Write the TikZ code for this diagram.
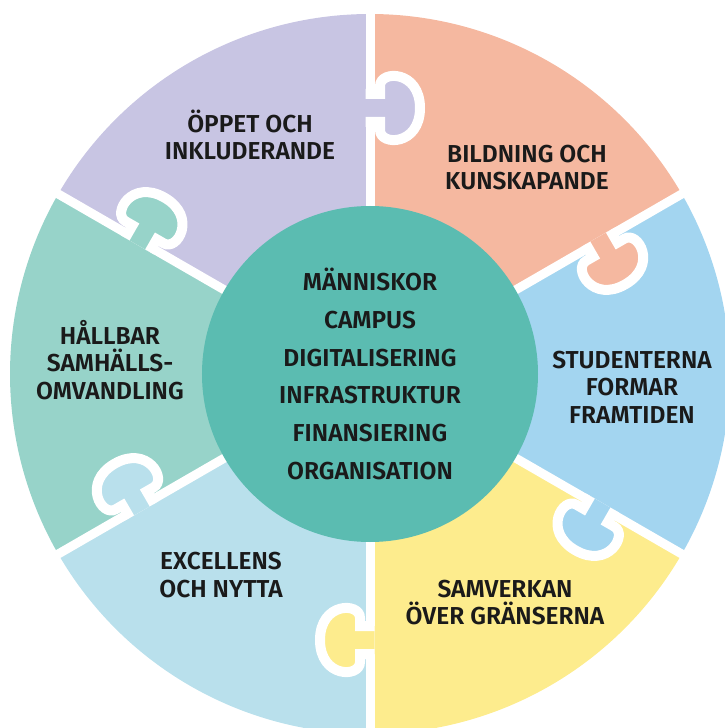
\documentclass[tikz,border=0pt]{standalone}
\usepackage{fontspec}
\setmainfont{Fira Sans SemiBold}
\usepackage{xcolor}
\definecolor{oppen}{RGB}{200,197,227}
\definecolor{bildning}{RGB}{245,184,160}
\definecolor{studenter}{RGB}{163,213,240}
\definecolor{samverkan}{RGB}{253,236,141}
\definecolor{excellens}{RGB}{185,224,236}
\definecolor{hallbar}{RGB}{151,211,201}
\definecolor{core}{RGB}{91,188,177}
\definecolor{ink}{RGB}{26,26,26}
\tikzstyle{seam}=[white, line width=9pt]
\tikzstyle{label}=[align=center, text=ink, font=\fontsize{24.5}{27.5}\selectfont]
\tikzstyle{hub}=[circle, minimum size=336pt, inner sep=0pt, fill=core, align=center, text=ink, font=\fontsize{24.5}{37.8}\selectfont]
\tikzset{knob/.style={fill=#1, draw=white, line width=10pt}}

%% tab of one piece, sitting on the seam at angle #1, pushed clockwise
\newcommand{\puzzleknob}[2]{%
  \begin{scope}[rotate=#1]
    \filldraw[knob=#2] (252,4.5) -- (252,-10) -- (244,-10)
      .. controls (228,-10) and (228,-50) .. (266,-50)
      .. controls (304,-50) and (304,-10) .. (288,-10) -- (280,-10) -- (280,4.5);
  \end{scope}}

\begin{document}
\begin{tikzpicture}[x=1pt,y=1pt]
  \useasboundingbox (-370,-354) rectangle (354,374);

  %% the six pieces
  \fill[bildning] (0,0) -- (30:360) arc (30:90:360pt) -- cycle;
  \fill[oppen] (0,0) -- (90:360) arc (90:150:360pt) -- cycle;
  \fill[hallbar] (0,0) -- (150:360) arc (150:210:360pt) -- cycle;
  \fill[excellens] (0,0) -- (210:360) arc (210:270:360pt) -- cycle;
  \fill[samverkan] (0,0) -- (270:360) arc (270:330:360pt) -- cycle;
  \fill[studenter] (0,0) -- (330:360) arc (330:390:360pt) -- cycle;

  %% white gaps between them
  \draw[seam] (0,0) -- (30:380);
  \draw[seam] (0,0) -- (90:380);
  \draw[seam] (0,0) -- (150:380);
  \draw[seam] (0,0) -- (210:380);
  \draw[seam] (0,0) -- (270:380);
  \draw[seam] (0,0) -- (330:380);

  %% tabs
  \puzzleknob{30}{bildning}
  \puzzleknob{90}{oppen}
  \puzzleknob{150}{hallbar}
  \puzzleknob{210}{excellens}
  \puzzleknob{270}{samverkan}
  \puzzleknob{330}{studenter}

  %% middle
  \draw (0,0) node[hub] (hub) {MÄNNISKOR\\CAMPUS\\DIGITALISERING\\INFRASTRUKTUR\\FINANSIERING\\ORGANISATION};

  %% piece texts
  \draw (-120,239) node[label] (open) {ÖPPET OCH\\INKLUDERANDE};
  \draw (157,206.5) node[label] (bild) {BILDNING OCH\\KUNSKAPANDE};
  \draw (-260,14) node[label] (hall) {HÅLLBAR\\SAMHÄLLS-\\OMVANDLING};
  \draw (262,-13) node[label] (stud) {STUDENTERNA\\FORMAR\\FRAMTIDEN};
  \draw (-149,-201) node[label] (exc) {EXCELLENS\\OCH NYTTA};
  \draw (135,-228.5) node[label] (samv) {SAMVERKAN\\ÖVER GRÄNSERNA};
\end{tikzpicture}
\end{document}
